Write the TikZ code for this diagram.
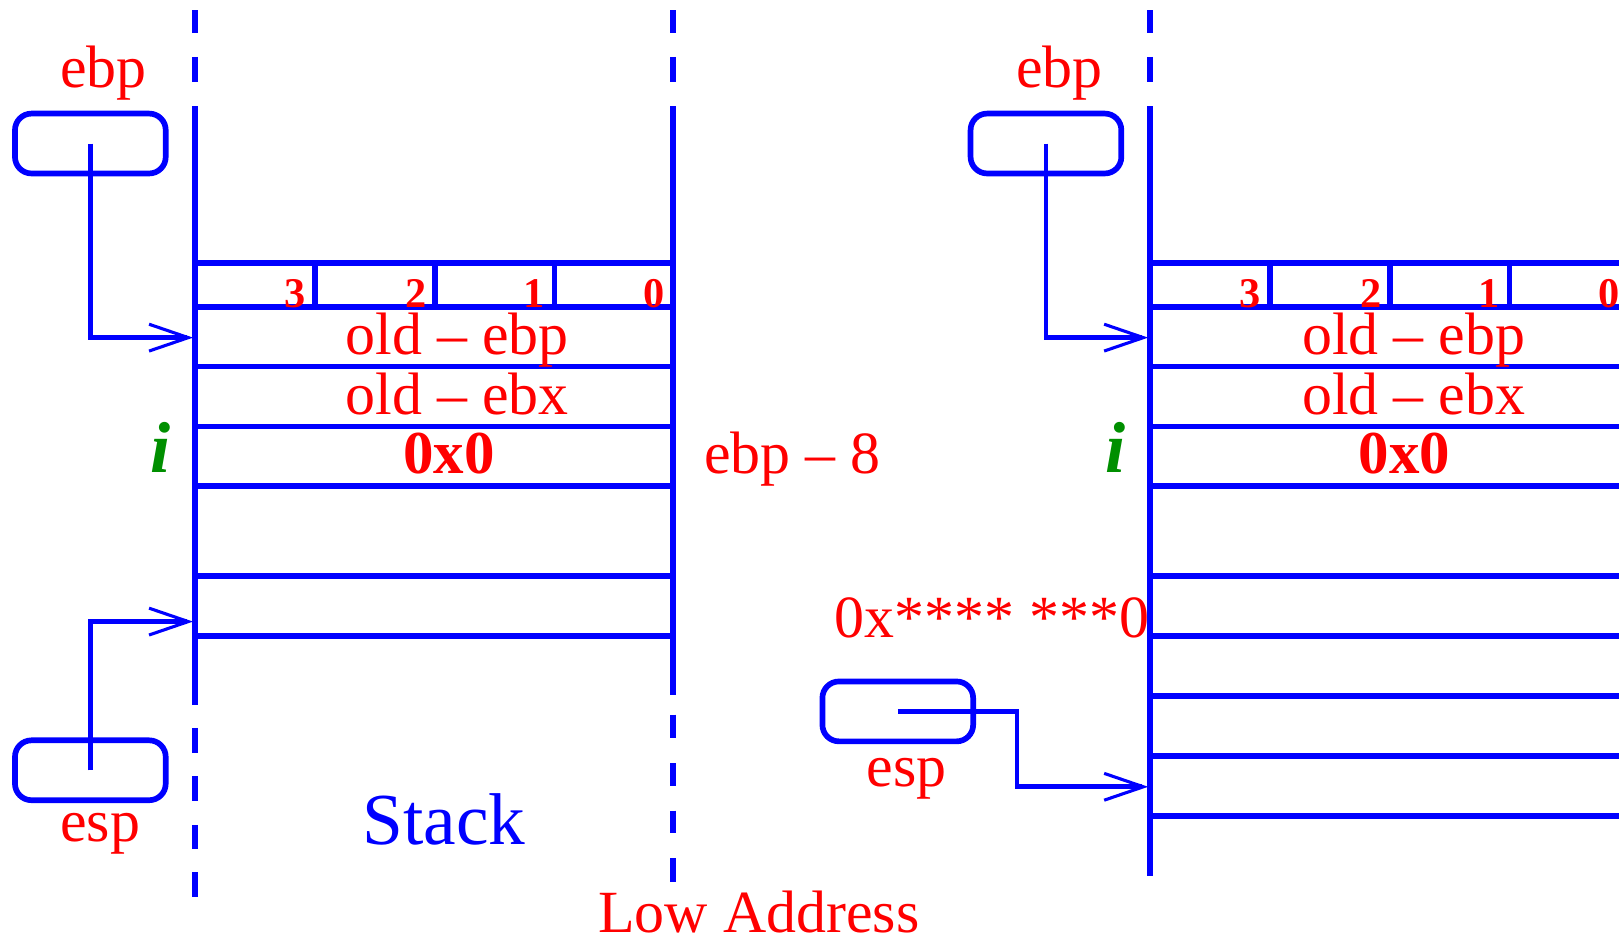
\documentclass[tikz,border=0pt]{standalone}
\usepackage{fontspec}
\setmainfont{Liberation Serif}
\usetikzlibrary{arrows.meta}
\definecolor{figblue}{rgb}{0,0,1}
\definecolor{figred}{rgb}{1,0,0}
\definecolor{figgreen}{rgb}{0,0.56,0}
\begin{document}
\begin{tikzpicture}[x=1pt,y=-1pt,
  stk/.style={figblue,line width=5.5pt},
  ptrbox/.style={draw=figblue,line width=5.5pt,rounded corners=16pt,minimum width=146pt,minimum height=58pt,inner sep=0pt},
  ptr/.style={figblue,line width=4.5pt,-{Straight Barb[length=38pt,width=26pt,line width=3pt]}},
  lbl/.style={text=figred,font=\fontsize{58}{62}\selectfont,inner sep=0pt,anchor=base,text depth=0pt},
  byte/.style={text=figred,font=\fontsize{41}{44}\selectfont\bfseries,inner sep=0pt,anchor=base east},
  val/.style={text=figred,font=\fontsize{59}{62}\selectfont\bfseries,inner sep=0pt,anchor=base},
  var/.style={text=figgreen,font=\fontsize{70}{74}\selectfont\bfseries\itshape,inner sep=0pt,anchor=base},
]
\useasboundingbox (0,0) rectangle (1568,912);
\clip (0,0) rectangle (1568,912);

% ---------- left stack ----------
% vertical lines
\foreach \a/\b in {10/32,55/79,103/683,705/729,752/776,799/822,845/869}
  \draw[stk] (189,\a) -- (189,\b);
\foreach \a/\b in {10/32,55/79,103/673,692/715,739/761,785/807,831/854}
  \draw[stk] (652,\a) -- (652,\b);
\foreach \y in {255,297,355,413,471,558,616}
  \draw[stk] (189,\y) -- (652,\y);
\foreach \x in {305,421,537}
  \draw[stk] (\x,255) -- (\x,297);
\node[byte] (bl3) at (296,298) {3};
\node[byte] (bl2) at (413,298) {2};
\node[byte] (bl1) at (528,298) {1};
\node[byte] (bl0) at (644,298) {0};
\node[lbl] (oebpL) at (443,343) {old – ebp};
\node[lbl] (oebxL) at (443,401) {old – ebx};
\node[val] (zeroL) at (435,459) {0x0};
\node[var] (iL) at (155,458) {i};
\node[lbl,anchor=base west] (ebp8) at (682,459) {ebp – 8};
\node[text=figblue,font=\fontsize{71}{75}\selectfont,inner sep=0pt,anchor=base] (stack) at (430,818) {Stack};
\node[lbl] (low) at (735,903) {Low Address};

% pointers left
\node[ptrbox] (ebpL) at (87.5,139) {};
\node[lbl] (ebpLt) at (100,85) {ebp};
\coordinate (tgtL1) at (187,327);
\draw[ptr] (ebpL.center) |- (tgtL1);
\node[ptrbox] (espL) at (87.5,746) {};
\node[lbl] (espLt) at (97,815) {esp};
\coordinate (tgtL2) at (187,602);
\draw[ptr] (espL.center) |- (tgtL2);

% ---------- right stack ----------
\foreach \a/\b in {10/32,55/79,103/848}
  \draw[stk] (1114,\a) -- (1114,\b);
\foreach \y in {255,297,355,413,471,558,616,674,732,790}
  \draw[stk] (1114,\y) -- (1600,\y);
\foreach \x in {1230,1346,1462}
  \draw[stk] (\x,255) -- (\x,297);
\node[byte] (br3) at (1221,298) {3};
\node[byte] (br2) at (1338,298) {2};
\node[byte] (br1) at (1453,298) {1};
\node[byte] (br0) at (1569,298) {0};
\node[lbl] (oebpR) at (1369,343) {old – ebp};
\node[lbl] (oebxR) at (1369,401) {old – ebx};
\node[val] (zeroR) at (1360,459) {0x0};
\node[var] (iR) at (1080,458) {i};
\node[lbl,anchor=base east] (addr) at (1113,617) {0x**** ***0};

% pointers right
\node[ptrbox] (ebpR) at (1013,139) {};
\node[lbl] (ebpRt) at (1026,85) {ebp};
\coordinate (tgtR1) at (1112,327);
\draw[ptr] (ebpR.center) |- (tgtR1);
\node[ptrbox] (espR) at (869.5,689) {};
\node[lbl] (espRt) at (878,762) {esp};
\coordinate (bendR) at (985,689);
\coordinate (tgtR2) at (1112,762);
\draw[ptr] (espR.center) -- (bendR) |- (tgtR2);
\end{tikzpicture}
\end{document}
